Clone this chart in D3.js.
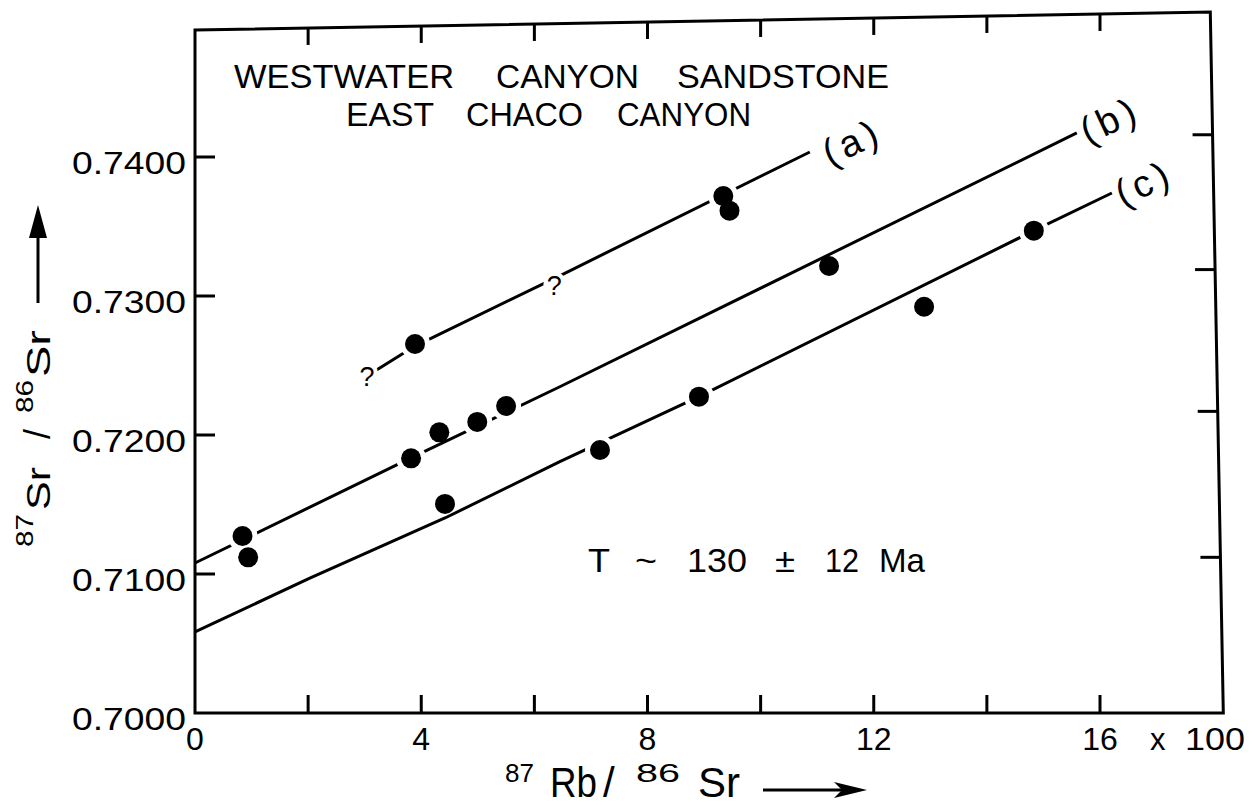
<!DOCTYPE html>
<html><head><meta charset="utf-8">
<script src="https://cdn.jsdelivr.net/npm/d3@7"></script>
<style>
body{margin:0;background:#fff}
svg{display:block}
text{font-family:'Liberation Sans',Arial,sans-serif;fill:#000}
</style>
</head><body>
<svg id="chart" width="1254" height="808"></svg>
<script>
// ---------------- data ----------------
const xTickValues = [0, 4, 8, 12, 16];
const xTickLabels = ["0", "4", "8", "12", "16"];
const xMinorTicks = [2, 4, 6, 8, 10, 12, 14, 16];
const yTickValues = [0.70, 0.71, 0.72, 0.73, 0.74];
const yTickLabels = ["0.7000", "0.7100", "0.7200", "0.7300", "0.7400"];
const rightTickValues = [0.7416, 0.7319, 0.7217, 0.7112];

// measured samples (87Rb/86Sr in hundreds, 87Sr/86Sr)
const seriesA_x = [3.89, 9.34, 9.45];
const seriesA_y = [0.72655, 0.73719, 0.73614];
const seriesB_x = [0.84, 0.94, 3.82, 4.32, 4.99, 5.50, 11.21];
const seriesB_y = [0.71273, 0.71120, 0.71832, 0.72019, 0.72094, 0.72209, 0.73216];
const seriesC_x = [4.42, 7.16, 8.91, 12.89, 14.83];
const seriesC_y = [0.71504, 0.71892, 0.72276, 0.72923, 0.73470];

// hand-drawn isochron lines (vertices)
const lineA_x = [3.21, 3.89, 6.51, 10.87];
const lineA_y = [0.72468, 0.72640, 0.73158, 0.74036];
const lineB_x = [0, 3.82, 6.45, 15.59];
const lineB_y = [0.71079, 0.71835, 0.72347, 0.74173];
const lineC_x = [0, 2.03, 4.42, 6.45, 8.91, 14.83, 16.21];
const lineC_y = [0.70583, 0.70971, 0.71403, 0.71808, 0.72276, 0.73470, 0.73741];

const lineLabels = ["(a)", "(b)", "(c)"];
const lineLabel_x = [11.62, 16.18, 16.78];
const lineLabel_y = [0.74108, 0.74266, 0.73813];

const question_x = [3.04, 6.35];
const question_y = [0.72424, 0.73079];

// hand-drawn frame corners
const frame_x = [0, 0, 17.95, 18.18];
const frame_y = [0.70, 0.74914, 0.75043, 0.70];

const titleLine1 = ["WESTWATER", "CANYON", "SANDSTONE"];
const titleLine2 = ["EAST", "CHACO", "CANYON"];
const ageText = ["T", "~", "130", "±", "12", "Ma"];

// ---------------- drawing ----------------
const svg = d3.select("#chart");
const x = d3.scaleLinear().domain([0, 16]).range([195, 1100]);
const y = d3.scaleLinear().domain([0.70, 0.74]).range([713, 157]);
const SW = 3;

// frame
const framePts = d3.zip(frame_x, frame_y).map(d => [x(d[0]), y(d[1])]);
svg.append("path")
  .attr("d", "M" + framePts.map(p => p.join(",")).join("L") + "Z")
  .attr("fill", "none").attr("stroke", "#000").attr("stroke-width", SW)
  .attr("stroke-linejoin", "miter");

// bottom ticks
svg.append("g").selectAll("line").data(xMinorTicks).join("line")
  .attr("x1", d => x(d)).attr("x2", d => x(d))
  .attr("y1", y(0.70)).attr("y2", y(0.70) - 18)
  .attr("stroke", "#000").attr("stroke-width", SW);

// top ticks (follow sloping top edge)
const tl = framePts[1], tr = framePts[2];
svg.append("g").selectAll("line").data(xMinorTicks).join("line")
  .each(function(d) {
    const px = x(d);
    const t = (px - tl[0]) / (tr[0] - tl[0]);
    const py = tl[1] + (tr[1] - tl[1]) * t;
    d3.select(this).attr("x1", px).attr("x2", px).attr("y1", py).attr("y2", py + 17);
  })
  .attr("stroke", "#000").attr("stroke-width", SW);

// left ticks
svg.append("g").selectAll("line").data(yTickValues.slice(1)).join("line")
  .attr("x1", x(0)).attr("x2", x(0) + 20)
  .attr("y1", d => y(d)).attr("y2", d => y(d))
  .attr("stroke", "#000").attr("stroke-width", SW);

// right ticks (follow right edge)
const rTop = framePts[2], rBot = framePts[3];
function rightEdgeX(py) { return rTop[0] + (rBot[0] - rTop[0]) * (py - rTop[1]) / (rBot[1] - rTop[1]); }
svg.append("g").selectAll("line").data(rightTickValues).join("line")
  .attr("x1", d => rightEdgeX(y(d))).attr("x2", d => rightEdgeX(y(d)) - 20)
  .attr("y1", d => y(d)).attr("y2", d => y(d))
  .attr("stroke", "#000").attr("stroke-width", SW);

// y tick labels
svg.append("g").selectAll("text").data(yTickValues).join("text")
  .attr("x", 186).attr("y", d => y(d) + 17)
  .attr("text-anchor", "end").attr("font-size", 31)
  .attr("textLength", 114).attr("lengthAdjust", "spacingAndGlyphs")
  .text((d, i) => yTickLabels[i]);

// x tick labels
svg.append("g").selectAll("text").data(xTickValues).join("text")
  .attr("x", d => x(d)).attr("y", 750)
  .attr("text-anchor", "middle").attr("font-size", 32)
  .text((d, i) => xTickLabels[i]);
svg.append("text").attr("x", 1150).attr("y", 750).attr("font-size", 31).text("x");
svg.append("text").attr("x", 1185).attr("y", 750).attr("font-size", 32)
  .attr("textLength", 60).attr("lengthAdjust", "spacingAndGlyphs").text("100");

// lines
const lineGen = d3.line().x(d => x(d[0])).y(d => y(d[1]));
const lines = [d3.zip(lineA_x, lineA_y), d3.zip(lineB_x, lineB_y), d3.zip(lineC_x, lineC_y)];
svg.append("g").selectAll("path").data(lines).join("path")
  .attr("d", lineGen).attr("fill", "none")
  .attr("stroke", "#000").attr("stroke-width", SW).attr("stroke-linejoin", "round");

// points
const points = [].concat(
  d3.zip(seriesA_x, seriesA_y),
  d3.zip(seriesB_x, seriesB_y),
  d3.zip(seriesC_x, seriesC_y)
);
const R = 10;
function segDist(p, a, b) {
  const dx = b[0] - a[0], dy = b[1] - a[1];
  let t = ((p[0] - a[0]) * dx + (p[1] - a[1]) * dy) / (dx * dx + dy * dy);
  t = Math.max(0, Math.min(1, t));
  return Math.hypot(p[0] - (a[0] + t * dx), p[1] - (a[1] + t * dy));
}
function minLineDist(pp) {
  let m = Infinity;
  lines.forEach(L => {
    const px = L.map(d => [x(d[0]), y(d[1])]);
    for (let i = 0; i < px.length - 1; i++) m = Math.min(m, segDist(pp, px[i], px[i + 1]));
  });
  return m;
}
const onLine = points.filter(d => minLineDist([x(d[0]), y(d[1])]) < R - 0.5);
svg.append("g").selectAll("circle").data(onLine).join("circle")
  .attr("cx", d => x(d[0])).attr("cy", d => y(d[1])).attr("r", R + 5).attr("fill", "#fff");

// question marks (with gap in line)
svg.append("g").selectAll("text").data(d3.zip(question_x, question_y)).join("text")
  .attr("x", d => x(d[0])).attr("y", d => y(d[1]) + 10)
  .attr("text-anchor", "middle").attr("font-size", 27)
  .attr("stroke", "#fff").attr("stroke-width", 8).attr("paint-order", "stroke")
  .text("?");

svg.append("g").selectAll("circle").data(points).join("circle")
  .attr("cx", d => x(d[0])).attr("cy", d => y(d[1])).attr("r", R).attr("fill", "#000");

// line labels (a), (b), (c)
svg.append("g").selectAll("text").data(lineLabels).join("text")
  .attr("transform", (d, i) => `translate(${x(lineLabel_x[i])},${y(lineLabel_y[i])}) rotate(-25)`)
  .attr("text-anchor", "middle").attr("dominant-baseline", "central")
  .attr("font-size", 38).attr("letter-spacing", 5)
  .text(d => d);

// titles
const t1x = [234, 496, 677], t1w = [220, 143, 212];
svg.append("g").selectAll("text").data(titleLine1).join("text")
  .attr("x", (d, i) => t1x[i]).attr("y", 88).attr("font-size", 34)
  .attr("textLength", (d, i) => t1w[i]).attr("lengthAdjust", "spacingAndGlyphs")
  .text(d => d);
const t2x = [346, 466, 617], t2w = [88, 117, 134];
svg.append("g").selectAll("text").data(titleLine2).join("text")
  .attr("x", (d, i) => t2x[i]).attr("y", 126).attr("font-size", 34)
  .attr("textLength", (d, i) => t2w[i]).attr("lengthAdjust", "spacingAndGlyphs")
  .text(d => d);

// age annotation
const ax = [588, 635, 687, 775, 825, 879], aw = [22, 22, 60, 20, 34, 46];
svg.append("g").selectAll("text").data(ageText).join("text")
  .attr("x", (d, i) => ax[i]).attr("y", 572).attr("font-size", 33)
  .attr("textLength", (d, i) => aw[i]).attr("lengthAdjust", "spacingAndGlyphs")
  .text(d => d);

// x axis title
const xt = svg.append("g");
xt.append("text").attr("x", 505).attr("y", 782).attr("font-size", 26)
  .attr("textLength", 29).attr("lengthAdjust", "spacingAndGlyphs").text("87");
xt.append("text").attr("x", 550).attr("y", 797).attr("font-size", 42)
  .attr("textLength", 47).attr("lengthAdjust", "spacingAndGlyphs").text("Rb");
xt.append("text").attr("x", 603).attr("y", 797).attr("font-size", 42).text("/");
xt.append("text").attr("x", 636).attr("y", 782).attr("font-size", 26)
  .attr("textLength", 44).attr("lengthAdjust", "spacingAndGlyphs").text("86");
xt.append("text").attr("x", 698).attr("y", 797).attr("font-size", 42)
  .attr("textLength", 42).attr("lengthAdjust", "spacingAndGlyphs").text("Sr");
xt.append("line").attr("x1", 763).attr("x2", 845).attr("y1", 790).attr("y2", 790)
  .attr("stroke", "#000").attr("stroke-width", SW);
xt.append("path").attr("d", "M867,790 L834,782 L842,790 L834,798 Z").attr("fill", "#000");

// y axis title (rotated)
const yt = svg.append("g").attr("transform", "translate(50,547) rotate(-90)");
yt.append("text").attr("x", 0).attr("y", -17).attr("font-size", 24)
  .attr("textLength", 33).attr("lengthAdjust", "spacingAndGlyphs").text("87");
yt.append("text").attr("x", 37).attr("y", 0).attr("font-size", 33)
  .attr("textLength", 43).attr("lengthAdjust", "spacingAndGlyphs").text("Sr");
yt.append("text").attr("x", 108).attr("y", 0).attr("font-size", 36).text("/");
yt.append("text").attr("x", 134).attr("y", -17).attr("font-size", 24)
  .attr("textLength", 33).attr("lengthAdjust", "spacingAndGlyphs").text("86");
yt.append("text").attr("x", 170).attr("y", 0).attr("font-size", 33)
  .attr("textLength", 47).attr("lengthAdjust", "spacingAndGlyphs").text("Sr");
svg.append("line").attr("x1", 38).attr("x2", 38).attr("y1", 303).attr("y2", 230)
  .attr("stroke", "#000").attr("stroke-width", SW);
svg.append("path").attr("d", "M38,205 L29,238 L47,238 Z").attr("fill", "#000");
</script>
</body></html>
